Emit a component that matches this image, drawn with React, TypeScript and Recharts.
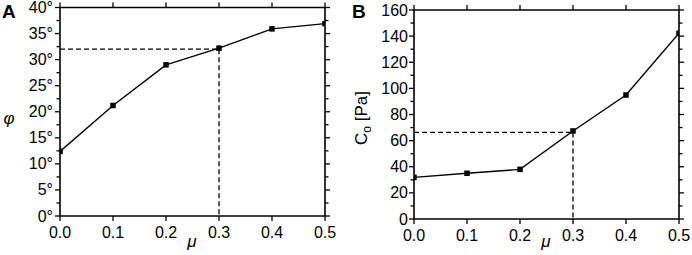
import React from 'react';
import { LineChart, Line, XAxis, YAxis, ReferenceLine } from 'recharts';

const muValues = [0, 0.1, 0.2, 0.3, 0.4, 0.5];
const phiValues = [12.4, 21.2, 29.0, 32.2, 35.9, 36.9];
const cohesionValues = [31.9, 35.0, 38.0, 67.4, 94.9, 142.2];
const muTicks = [0, 0.1, 0.2, 0.3, 0.4, 0.5];
const phiTicks = [0, 2.5, 5, 7.5, 10, 12.5, 15, 17.5, 20, 22.5, 25, 27.5, 30, 32.5, 35, 37.5, 40];
const phiMajorStep = 5;
const cohesionTicks = [0, 10, 20, 30, 40, 50, 60, 70, 80, 90, 100, 110, 120, 130, 140, 150, 160];
const cohesionMajorStep = 20;
const muMarked = 0.3;
const phiAtMarked = 32.0;
const cohesionAtMarked = 66.3;

const phiData = muValues.map((mu, i) => ({ mu, v: phiValues[i] }));
const cohesionData = muValues.map((mu, i) => ({ mu, v: cohesionValues[i] }));

const FONT = '"Liberation Sans", Arial, sans-serif';
const FS = 16;

const isMajor = (v: number, step: number) => Math.abs(v / step - Math.round(v / step)) < 1e-6;

const makeYTick = (side: 'left' | 'right', step: number, suffix: string, showLabel: boolean, gap: number) => (props: any) => {
  const { x, y, payload } = props;
  const v = payload.value;
  const major = isMajor(v, step);
  const len = major ? 5 : 3.5;
  const dir = side === 'left' ? -1 : 1;
  return (
    <g>
      <line x1={x} x2={x + dir * len} y1={y} y2={y} stroke="#000" strokeWidth={1.3} />
      {major && showLabel && (
        <text x={x - 5 - gap} y={y} textAnchor="end" dominantBaseline="central" fontSize={FS} fontFamily={FONT} fill="#000">
          {`${v}${suffix}`}
        </text>
      )}
    </g>
  );
};

const makeXTick = (side: 'top' | 'bottom', showLabel: boolean) => (props: any) => {
  const { x, y, payload } = props;
  const v = payload.value;
  const dir = side === 'top' ? -1 : 1;
  return (
    <g>
      <line x1={x} x2={x} y1={y} y2={y + dir * 5} stroke="#000" strokeWidth={1.3} />
      {showLabel && (
        <text x={x} y={y + 22} textAnchor="middle" fontSize={FS} fontFamily={FONT} fill="#000">
          {v.toFixed(1)}
        </text>
      )}
    </g>
  );
};

const SquareDot = (props: any) => {
  const { cx, cy, index } = props;
  return <rect key={`d${index}`} x={cx - 2.75} y={cy - 2.75} width={5.5} height={5.5} fill="#000" />;
};

type PanelProps = {
  data: { mu: number; v: number }[];
  yTicks: number[];
  yMax: number;
  step: number;
  suffix: string;
  marked: number;
  margin: { top: number; right: number; bottom: number; left: number };
  yWidth: number;
  xHeight: number;
  gap: number;
};

const Panel = ({ data, yTicks, yMax, step, suffix, marked, margin, yWidth, xHeight, gap }: PanelProps) => (
  <LineChart width={346} height={255} data={data} margin={margin}>
    <XAxis xAxisId="b" dataKey="mu" type="number" domain={[0, 0.5]} ticks={muTicks} orientation="bottom"
      height={xHeight} tickSize={0} tickMargin={0} tickLine={false} axisLine={{ stroke: '#000', strokeWidth: 1.6 }}
      tick={makeXTick('bottom', true)} interval={0} allowDataOverflow />
    <XAxis xAxisId="t" dataKey="mu" type="number" domain={[0, 0.5]} ticks={muTicks} orientation="top"
      height={1} tickSize={0} tickMargin={0} tickLine={false} axisLine={{ stroke: '#000', strokeWidth: 1.6 }}
      tick={makeXTick('top', false)} interval={0} allowDataOverflow />
    <YAxis yAxisId="l" type="number" domain={[0, yMax]} ticks={yTicks} orientation="left" width={yWidth}
      tickSize={0} tickMargin={0} tickLine={false} axisLine={{ stroke: '#000', strokeWidth: 1.6 }}
      tick={makeYTick('left', step, suffix, true, gap)} interval={0} allowDataOverflow />
    <YAxis yAxisId="r" type="number" domain={[0, yMax]} ticks={yTicks} orientation="right" width={1}
      tickSize={0} tickMargin={0} tickLine={false} axisLine={{ stroke: '#000', strokeWidth: 1.6 }}
      tick={makeYTick('right', step, suffix, false, gap)} interval={0} allowDataOverflow />
    <ReferenceLine xAxisId="b" yAxisId="l" segment={[{ x: 0, y: marked }, { x: muMarked, y: marked }]}
      stroke="#000" strokeWidth={1.3} strokeDasharray="5 3" ifOverflow="visible" />
    <ReferenceLine xAxisId="b" yAxisId="l" segment={[{ x: muMarked, y: marked }, { x: muMarked, y: 0 }]}
      stroke="#000" strokeWidth={1.3} strokeDasharray="5 3" ifOverflow="visible" />
    <Line xAxisId="b" yAxisId="l" dataKey="v" type="linear" stroke="#000" strokeWidth={1.4}
      dot={SquareDot} activeDot={false} isAnimationActive={false} />
  </LineChart>
);

export default function App() {
  return (
    <div style={{ position: 'absolute', left: 0, top: 0, width: 692, height: 255, background: '#fff' }}>
      <div style={{ position: 'absolute', left: 0, top: 0 }}>
        <Panel data={phiData} yTicks={phiTicks} yMax={40} step={phiMajorStep} suffix="°" marked={phiAtMarked}
          margin={{ top: 6.5, right: 20, bottom: 0, left: 0 }} yWidth={60} xHeight={39} gap={2} />
      </div>
      <div style={{ position: 'absolute', left: 346, top: 0 }}>
        <Panel data={cohesionData} yTicks={cohesionTicks} yMax={160} step={cohesionMajorStep} suffix="" marked={cohesionAtMarked}
          margin={{ top: 9, right: 12, bottom: 0, left: 0 }} yWidth={68} xHeight={36} gap={1} />
      </div>
      <svg width={692} height={255} style={{ position: 'absolute', left: 0, top: 0, pointerEvents: 'none' }}>
        <text x={2} y={18} fontSize={19} fontWeight="bold" fontFamily={FONT} fill="#000">A</text>
        <text x={352} y={18} fontSize={19} fontWeight="bold" fontFamily={FONT} fill="#000">B</text>
        <text x={9} y={124} textAnchor="middle" fontSize={17} fontStyle="italic" fontFamily={FONT} fill="#000">φ</text>
        <text x={192} y={247} textAnchor="middle" fontSize={17} fontStyle="italic" fontFamily={FONT} fill="#000">μ</text>
        <text x={546} y={247} textAnchor="middle" fontSize={17} fontStyle="italic" fontFamily={FONT} fill="#000">μ</text>
        <text transform="translate(367,118) rotate(-90)" textAnchor="middle" fontSize={17} fontFamily={FONT} fill="#000">
          C<tspan fontSize={12} dy={4}>o</tspan><tspan dy={-4}> [Pa]</tspan>
        </text>
      </svg>
    </div>
  );
}
